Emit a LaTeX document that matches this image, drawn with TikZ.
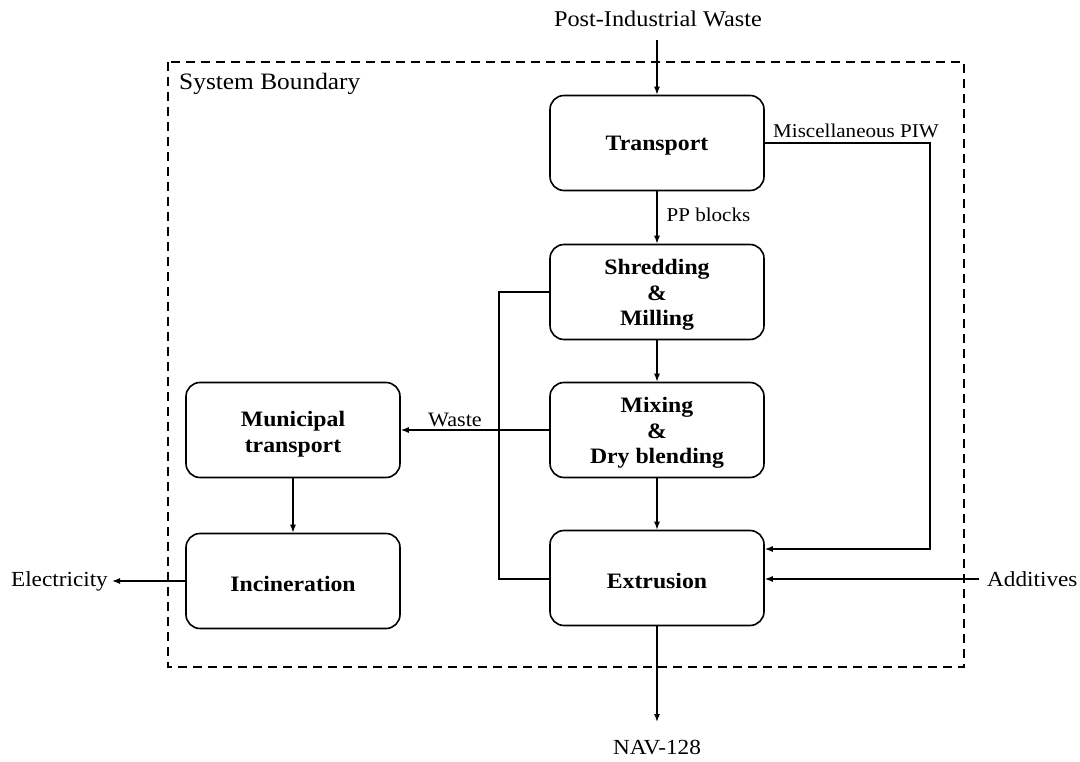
\documentclass[tikz,border=0pt]{standalone}
\usepackage{fontspec}
\setmainfont{Liberation Serif}[FakeStretch=1.08]
\usetikzlibrary{arrows.meta}
\begin{document}
\begin{tikzpicture}[x=1pt,y=-1pt,
  procbox/.style={draw, line width=1.6pt, rounded corners=14pt,
    minimum width=214pt, minimum height=95pt, inner sep=0pt},
  proctext/.style={align=center, inner sep=0pt,
    font=\fontsize{22}{25.5}\selectfont\bfseries},
  outlabel/.style={font=\fontsize{21.5}{24}\selectfont, inner sep=2pt},
  flowlabel/.style={font=\fontsize{19.5}{22}\selectfont, inner sep=0pt},
  flow/.style={line width=1.3pt, -{Latex[length=8pt,width=6pt]}},
  plain/.style={line width=1.3pt}]
\useasboundingbox (0,0) rectangle (1080,762);

% system boundary
\draw[dashed, line width=1.5pt, dash pattern=on 9pt off 6pt] (168,62) rectangle (964,667);
\node[outlabel, anchor=west, font=\fontsize{23.5}{26}\selectfont] (sb) at (177,84) {System Boundary};

% process boxes, with their titles set a little below centre
\node[procbox] (tr) at (657,143) {};
\node[procbox] (sh) at (657,292) {};
\node[procbox] (mx) at (657,430) {};
\node[procbox] (ex) at (657,578) {};
\node[procbox] (mu) at (293,430) {};
\node[procbox] (in) at (293,581) {};
\node[proctext] (trt) at ([yshift=-3pt]tr.center) {Transport};
\node[proctext] (sht) at ([yshift=-3pt]sh.center) {Shredding\\\&\\Milling};
\node[proctext] (mxt) at ([yshift=-3pt]mx.center) {Mixing\\\&\\Dry blending};
\node[proctext] (ext) at ([yshift=-3pt]ex.center) {Extrusion};
\node[proctext] (mut) at ([yshift=-4pt]mu.center) {Municipal\\transport};
\node[proctext] (int) at ([yshift=-3pt]in.center) {Incineration};

% external flows
\node[outlabel, font=\fontsize{22.5}{25}\selectfont] (piw) at (658,19) {Post-Industrial Waste};
\node[outlabel] (nav) at (657,748) {NAV-128};
\node[outlabel, anchor=east] (el) at (110,581) {Electricity};
\node[outlabel, anchor=west] (ad) at (985,579) {Additives};

\coordinate (piwend) at (657,40);
\coordinate (navend) at (657,722);
\coordinate (adstart) at (979,579);
\coordinate (m1) at (930,143);
\coordinate (m2) at (930,549);
\coordinate (l1) at (499,292);
\coordinate (l2) at (499,579);

\draw[flow] (piwend) -- (tr.north);
\draw[flow] (tr.south) -- node[flowlabel, right=9pt, pos=0.45] (pp) {PP blocks} (sh.north);
\draw[flow] (sh.south) -- (mx.north);
\draw[flow] (mx.south) -- (ex.north);
\draw[flow] (ex.south) -- (navend);

\draw[flow] (tr.east) -- (m1) -- (m2) -- (m2 -| ex.east);
\node[flowlabel, anchor=south west] (misc) at (773,138) {Miscellaneous PIW};

\draw[flow] (adstart) -- (adstart -| ex.east);

\draw[plain] (sh.west) -- (l1) -- (l2) -- (l2 -| ex.west);

\draw[flow] (mx.west) -- (mu.east);
\node[flowlabel, anchor=south, font=\fontsize{20.5}{23}\selectfont] (wl) at (455,427) {Waste};

\draw[flow] (mu.south) -- (in.north);
\draw[flow] (in.west) -- (112,581) coordinate (elend);
\end{tikzpicture}
\end{document}
